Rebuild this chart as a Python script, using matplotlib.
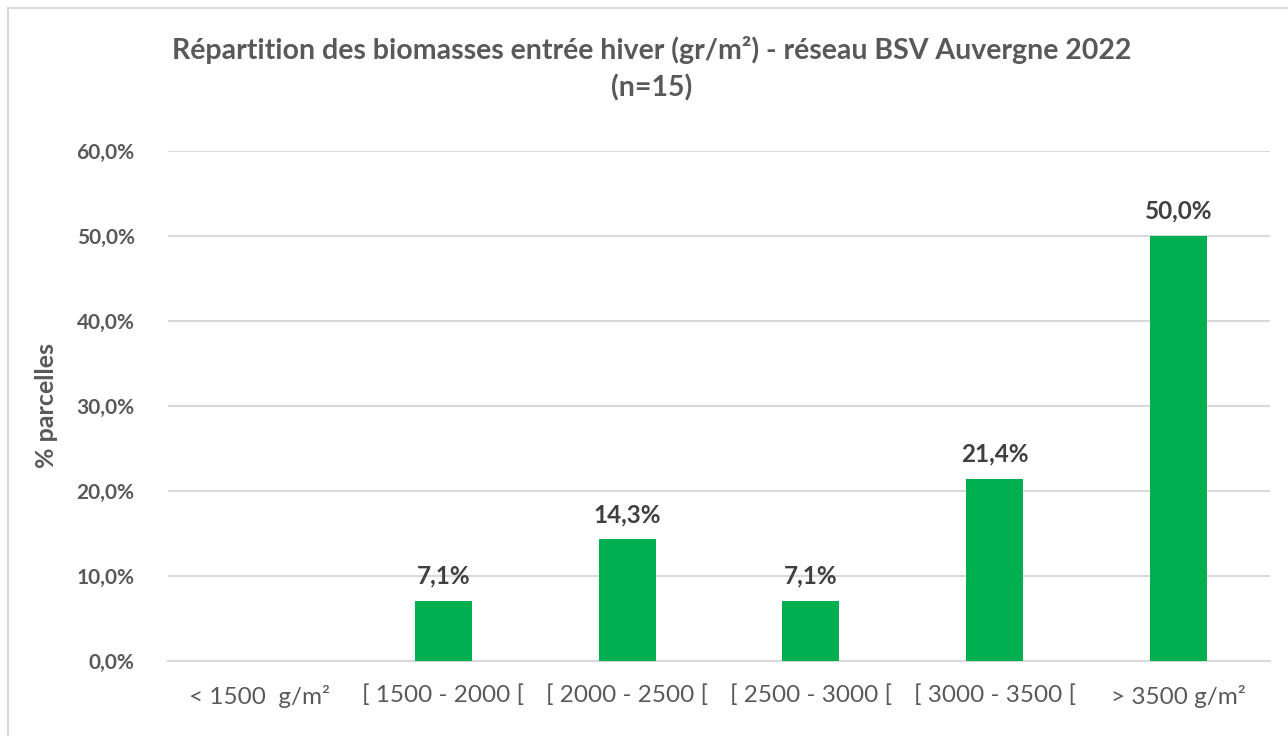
import matplotlib
matplotlib.use("Agg")
from matplotlib import pyplot as plt
from matplotlib.patches import Rectangle

categories = ["< 1500  g/m²", "[ 1500 - 2000 [", "[ 2000 - 2500 [",
              "[ 2500 - 3000 [", "[ 3000 - 3500 [", "> 3500 g/m²"]
percent = [0.0, 7.1, 14.3, 7.1, 21.4, 50.0]
y_ticks = [0, 10, 20, 30, 40, 50, 60]

plt.rcParams['font.family'] = ['Lato', 'DejaVu Sans']

fig = plt.figure(figsize=(12.88, 7.36), dpi=100)
ax = fig.add_axes([168/1288, 75/736, 1102/1288, 510/736])

# light border around the chart area
fig.patches.append(Rectangle((8/1288, -0.05), 1.2, 1 - 8/736 + 0.05,
                             transform=fig.transFigure, fill=False,
                             edgecolor='#d9d9d9', linewidth=1.5))

x = list(range(len(categories)))
ax.bar(x, percent, width=0.31, color='#00b050', zorder=3)

for xi, v in zip(x, percent):
    if v > 0:
        ax.annotate(f"{v:.1f}%".replace('.', ','), (xi, v),
                    xytext=(0, 18), textcoords='offset points',
                    ha='center', va='center', fontsize=17.5,
                    fontweight='bold', color='#404040')

ax.set_xlim(-0.5, len(categories) - 0.5)
ax.set_ylim(0, 60)
ax.set_yticks(y_ticks)
ax.set_yticklabels([f"{t:.1f}%".replace('.', ',') for t in y_ticks],
                   fontsize=15, fontweight='bold', color='#595959')
ax.set_xticks(x)
ax.set_xticklabels(categories, fontsize=17.5, color='#595959')
ax.tick_params(axis='both', length=0)
ax.tick_params(axis='y', pad=24)
ax.tick_params(axis='x', pad=17)

ax.grid(axis='y', color='#d9d9d9', linewidth=1.5, zorder=0)
for s in ['top', 'right', 'left']:
    ax.spines[s].set_visible(False)
ax.spines['bottom'].set_color('#d9d9d9')
ax.spines['bottom'].set_linewidth(1.5)

ax.set_ylabel("% parcelles", fontsize=18, fontweight='bold', color='#595959')
ax.yaxis.set_label_coords(-0.1, 0.5)

fig.text(652/1288, 1 - 50/736, "Répartition des biomasses entrée hiver (gr/m²) - réseau BSV Auvergne 2022",
         ha='center', va='center', fontsize=20.5, fontweight='bold', color='#595959')
fig.text(652/1288, 1 - 88/736, "(n=15)",
         ha='center', va='center', fontsize=20.5, fontweight='bold', color='#595959')

fig.savefig("out.png", dpi=100)
